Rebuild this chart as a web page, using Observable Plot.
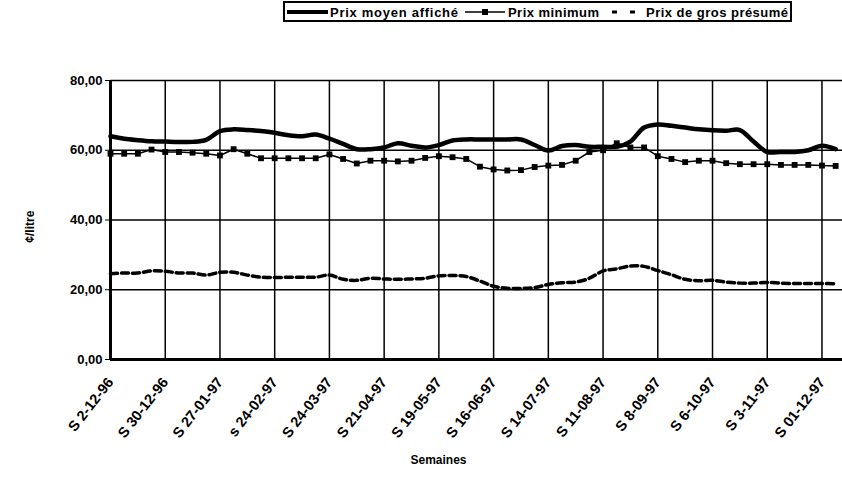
<!DOCTYPE html>
<html><head><meta charset="utf-8">
<script src="https://cdn.jsdelivr.net/npm/d3@7"></script>
<script src="https://cdn.jsdelivr.net/npm/@observablehq/plot@0.6"></script>
<style>
body{margin:0;background:#fff;font-family:"Liberation Sans",Arial,sans-serif;}
#legend{height:25px;width:842px;}
</style>
</head><body>
<div id="legend"></div>
<div id="chart"></div>
<script>
// Week labels (every 4th week shown on the axis)
const tickLabels = ["S 2-12-96","S 30-12-96","S 27-01-97","s 24-02-97","S 24-03-97","S 21-04-97","S 19-05-97","S 16-06-97","S 14-07-97","S 11-08-97","S 8-09-97","S 6-10-97","S 3-11-97","S 01-12-97"];
const seriesNames = ["Prix moyen affiché","Prix minimum","Prix de gros présumé"];
// ¢/litre, weekly from S 2-12-96
const prixMoyen = [64.0,63.3,62.9,62.6,62.5,62.4,62.4,63.0,65.5,66.0,65.8,65.5,65.0,64.3,64.0,64.5,63.3,61.8,60.3,60.3,60.8,62.0,61.3,60.8,61.5,62.8,63.1,63.1,63.1,63.1,63.1,61.5,59.9,61.2,61.5,61.0,61.0,61.0,62.5,66.5,67.4,67.0,66.5,66.0,65.7,65.6,65.8,62.5,59.5,59.5,59.5,60.0,61.3,60.3];
const prixMinimum = [59.0,59.0,59.0,60.2,59.5,59.5,59.3,59.0,58.5,60.3,59.0,57.7,57.7,57.7,57.7,57.7,58.8,57.5,56.2,57.0,57.0,56.8,57.0,57.8,58.3,58.0,57.5,55.3,54.5,54.2,54.3,55.2,55.6,55.8,57.0,59.5,60.0,62.0,60.8,60.8,58.3,57.5,56.6,57.0,57.0,56.3,56.0,56.0,56.0,55.8,55.8,55.8,55.6,55.5];
const prixGros = [24.6,24.8,24.8,25.4,25.3,24.8,24.8,24.2,25.0,25.0,24.2,23.6,23.5,23.6,23.6,23.6,24.2,23.0,22.7,23.3,23.1,23.0,23.1,23.3,24.0,24.1,23.8,22.5,21.0,20.4,20.4,20.6,21.5,22.0,22.2,23.3,25.4,26.0,26.8,26.7,25.5,24.3,23.0,22.6,22.7,22.2,21.9,21.9,22.1,21.9,21.8,21.8,21.8,21.7];
const yTicks = [0,20,40,60,80];

const tickIdx = tickLabels.map((_, i) => i * 4);
const moy = prixMoyen.map((v, i) => ({w: i, v}));
const mini = prixMinimum.map((v, i) => ({w: i, v}));
const gros = prixGros.map((v, i) => ({w: i, v}));
const fmt = d => d.toFixed(2).replace(".", ",");

// Legend
const lg = d3.select("#legend").append("svg").attr("width", 842).attr("height", 25)
  .style("font-family", "Liberation Sans, Arial, sans-serif");
lg.append("rect").attr("x", 284).attr("y", 2).attr("width", 507).attr("height", 19)
  .attr("fill", "#fff").attr("stroke", "#000").attr("stroke-width", 2);
lg.append("line").attr("x1", 287).attr("x2", 328).attr("y1", 12).attr("y2", 12).attr("stroke", "#000").attr("stroke-width", 4);
lg.append("text").attr("x", 330).attr("y", 16.5).attr("font-size", 13).attr("font-weight", "bold").attr("textLength", 128).text(seriesNames[0]);
lg.append("line").attr("x1", 465).attr("x2", 505).attr("y1", 12).attr("y2", 12).attr("stroke", "#000").attr("stroke-width", 1.5);
lg.append("rect").attr("x", 482).attr("y", 9).attr("width", 6).attr("height", 6).attr("fill", "#000");
lg.append("text").attr("x", 508).attr("y", 16.5).attr("font-size", 13).attr("font-weight", "bold").attr("textLength", 91).text(seriesNames[1]);
lg.append("line").attr("x1", 612).attr("x2", 640).attr("y1", 12).attr("y2", 12).attr("stroke", "#000").attr("stroke-width", 3).attr("stroke-dasharray", "5,13");
lg.append("text").attr("x", 646).attr("y", 16.5).attr("font-size", 13).attr("font-weight", "bold").attr("textLength", 142).text(seriesNames[2]);

const chart = Plot.plot({
  width: 842, height: 467,
  marginTop: 55, marginBottom: 133, marginLeft: 110, marginRight: 0,
  style: {fontFamily: "Liberation Sans, Arial, sans-serif", color: "#000", background: "#fff"},
  x: {domain: [0, 53.5], axis: null},
  y: {domain: [0, 80], axis: null},
  marks: [
    Plot.ruleY(yTicks.slice(1), {stroke: "#000", strokeWidth: 1.5}),
    Plot.ruleX(tickIdx.slice(1), {stroke: "#000", strokeWidth: 1.5}),
    Plot.line(gros, {x: "w", y: "v", stroke: "#000", strokeWidth: 3.5, strokeDasharray: "7,4", curve: "catmull-rom"}),
    Plot.line(mini, {x: "w", y: "v", stroke: "#000", strokeWidth: 1.5}),
    Plot.dot(mini, {x: "w", y: "v", symbol: "square", r: 3.3, fill: "#000"}),
    Plot.line(moy, {x: "w", y: "v", stroke: "#000", strokeWidth: 4.5, curve: "catmull-rom"}),
    Plot.ruleY([0], {stroke: "#000", strokeWidth: 3}),
    Plot.ruleX([0], {stroke: "#000", strokeWidth: 3}),
    Plot.axisY({ticks: yTicks, tickFormat: fmt, tickSize: 5, tickPadding: 3, fontSize: 13, fontWeight: "bold", tickStrokeWidth: 1.5, label: null}),
    Plot.axisX({ticks: tickIdx, tickFormat: d => tickLabels[d / 4], tickRotate: -52, tickSize: 0, tickPadding: 20, fontSize: 14.5, fontWeight: "bold", label: null}),
    Plot.text(["Semaines"], {frameAnchor: "bottom", dy: 101, dx: -38, fontSize: 12, fontWeight: "bold", lineAnchor: "middle"}),
    Plot.text([33.5], {y: d => d, frameAnchor: "left", rotate: -90, dx: -80, fontSize: 12, fontWeight: "bold", text: () => "¢/litre"})
  ]
});
document.getElementById("chart").appendChild(chart);
</script>
</body></html>
